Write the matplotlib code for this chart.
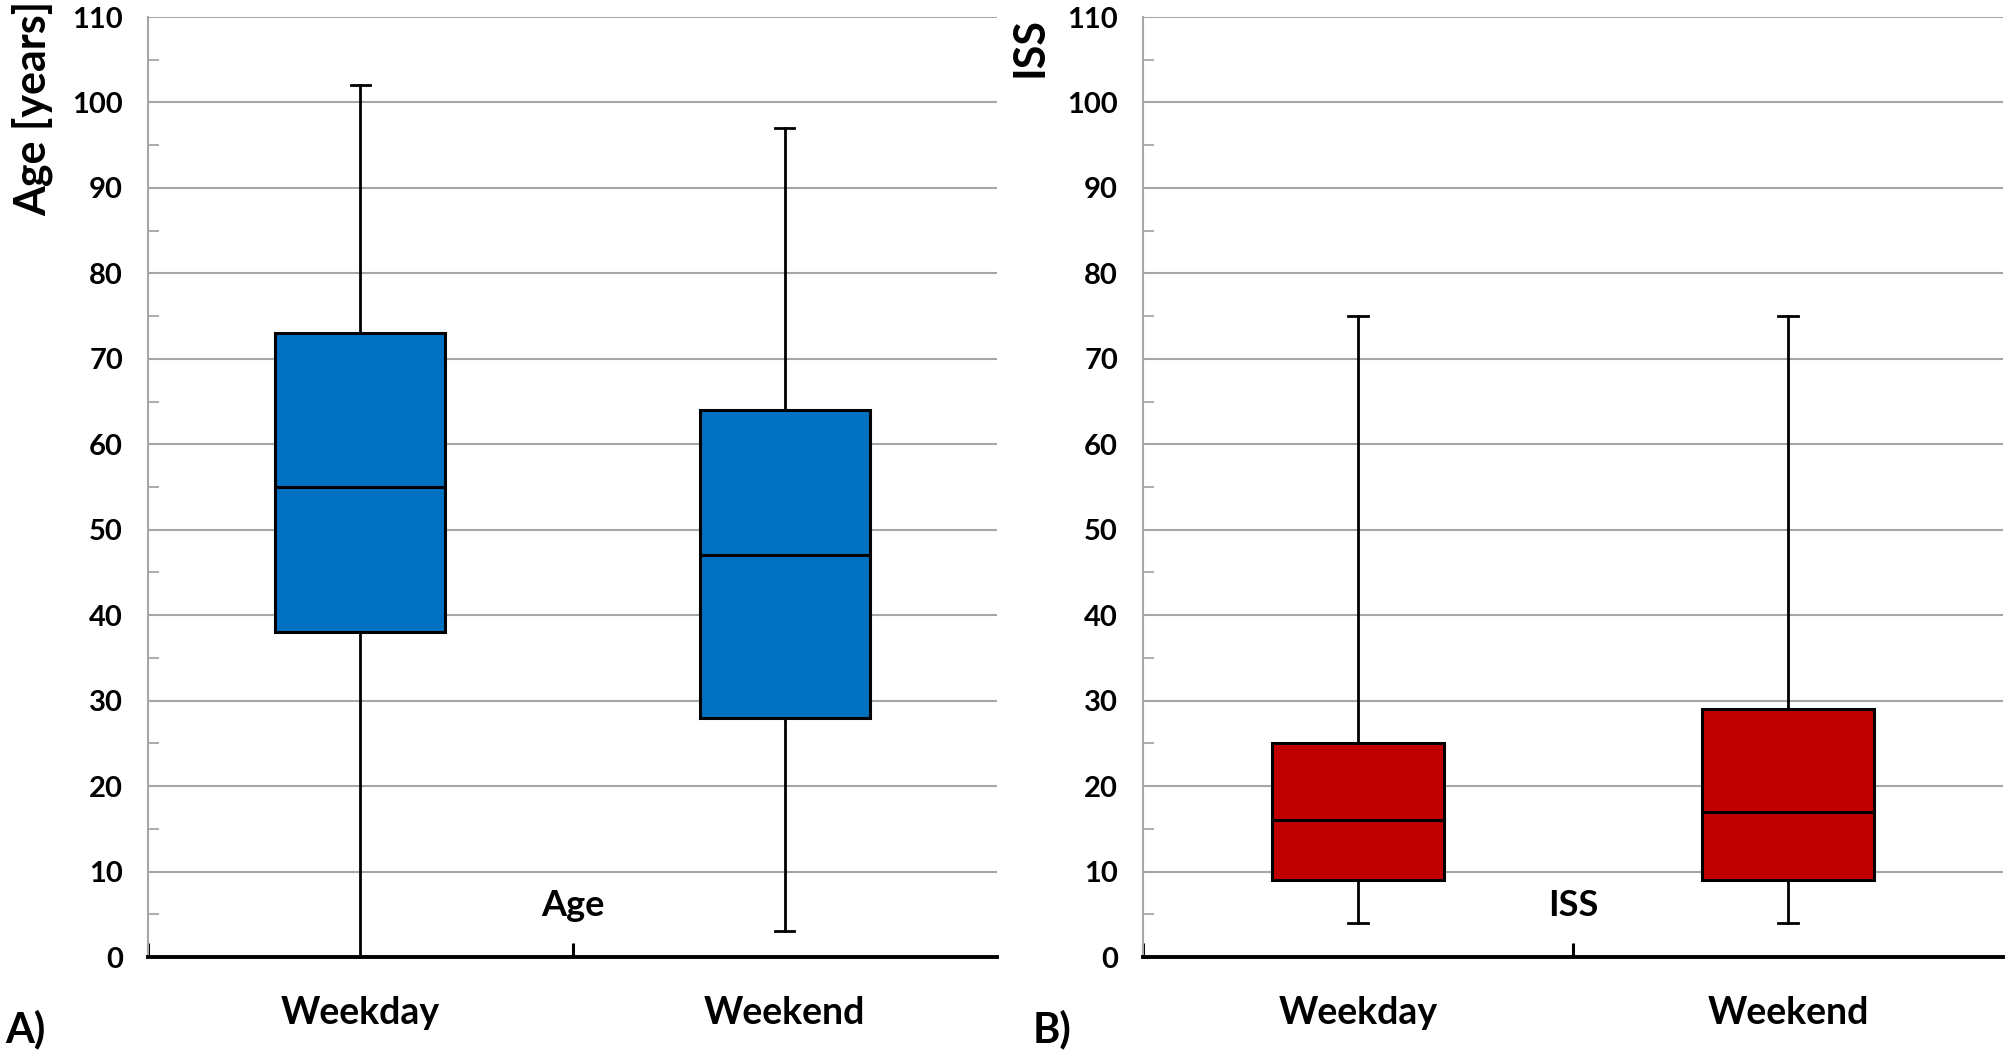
import numpy as np
import matplotlib.pyplot as plt

plt.rcParams['font.family'] = ['Lato', 'DejaVu Sans']
plt.rcParams['font.weight'] = 'bold'

groups = ['Weekday', 'Weekend']

# Age [years]
age_low = [0, 3]
age_q1 = [38, 28]
age_med = [55, 47]
age_q3 = [73, 64]
age_high = [102, 97]

# ISS
iss_low = [4, 4]
iss_q1 = [9, 9]
iss_med = [16, 17]
iss_q3 = [25, 29]
iss_high = [75, 75]

yticks = list(range(0, 111, 10))


def make_stats(low, q1, med, q3, high):
    stats = []
    for i in range(len(low)):
        stats.append({'whislo': low[i], 'q1': q1[i], 'med': med[i],
                      'q3': q3[i], 'whishi': high[i], 'fliers': []})
    return stats


def draw_panel(ax, stats, color, series, ylabel, tag, ylab_pos, tag_x):
    ax.bxp(stats, positions=[1, 2], widths=0.4, showfliers=False,
           patch_artist=True, capwidths=0.045,
           boxprops=dict(facecolor=color, edgecolor='black', linewidth=2.2),
           medianprops=dict(color='black', linewidth=2.2),
           whiskerprops=dict(color='black', linewidth=2.0),
           capprops=dict(color='black', linewidth=2.0), zorder=3)

    ax.set_xlim(0.5, 2.5)
    ax.set_ylim(0, 110)
    ax.set_yticks(yticks)
    ax.set_yticks(np.arange(5, 110, 10), minor=True)
    ax.yaxis.grid(True, color='#a6a6a6', linewidth=1.5, zorder=0)
    ax.set_axisbelow(True)

    # x axis: ticks between categories, labels under categories
    ax.set_xticks([0.5, 1.5])
    ax.set_xticklabels([])
    ax.tick_params(axis='x', direction='in', length=10, width=2.2, color='black')
    for i, g in enumerate(groups):
        ax.text(i + 1, -6.5, g, ha='center', va='center', fontsize=27,
                fontweight='bold')
    ax.text(1.5, 6, series, ha='center', va='center', fontsize=26, fontweight='bold')

    ax.tick_params(axis='y', which='major', length=0, pad=18, labelsize=21)
    ax.tick_params(axis='y', which='minor', direction='in', length=8, width=1.3,
                   color='#a6a6a6')
    for lab in ax.get_yticklabels():
        lab.set_fontweight('bold')

    ax.spines['top'].set_visible(False)
    ax.spines['right'].set_visible(False)
    ax.spines['left'].set_color('#a6a6a6')
    ax.spines['left'].set_linewidth(1.5)
    ax.spines['bottom'].set_color('black')
    ax.spines['bottom'].set_linewidth(2.8)

    ax.text(ylab_pos[0], ylab_pos[1], ylabel, rotation=90, ha='center', va='top',
            fontsize=31, fontweight='bold', transform=ax.transAxes)
    ax.text(tag_x, -0.077, tag, ha='left', va='center', fontsize=30,
            fontweight='bold', transform=ax.transAxes)


fig = plt.figure(figsize=(20.07, 10.52), dpi=100)
ax1 = fig.add_axes([148 / 2007, 1 - 957 / 1052, 849 / 2007, 940 / 1052])
ax2 = fig.add_axes([1143 / 2007, 1 - 957 / 1052, 860 / 2007, 940 / 1052])

draw_panel(ax1, make_stats(age_low, age_q1, age_med, age_q3, age_high),
           '#0070c0', 'Age', 'Age [years]', 'A)', (-0.136, 1.017), -0.168)
draw_panel(ax2, make_stats(iss_low, iss_q1, iss_med, iss_q3, iss_high),
           '#c00000', 'ISS', 'ISS', 'B)', (-0.132, 1.0), -0.128)

fig.savefig('out.png', dpi=100)
